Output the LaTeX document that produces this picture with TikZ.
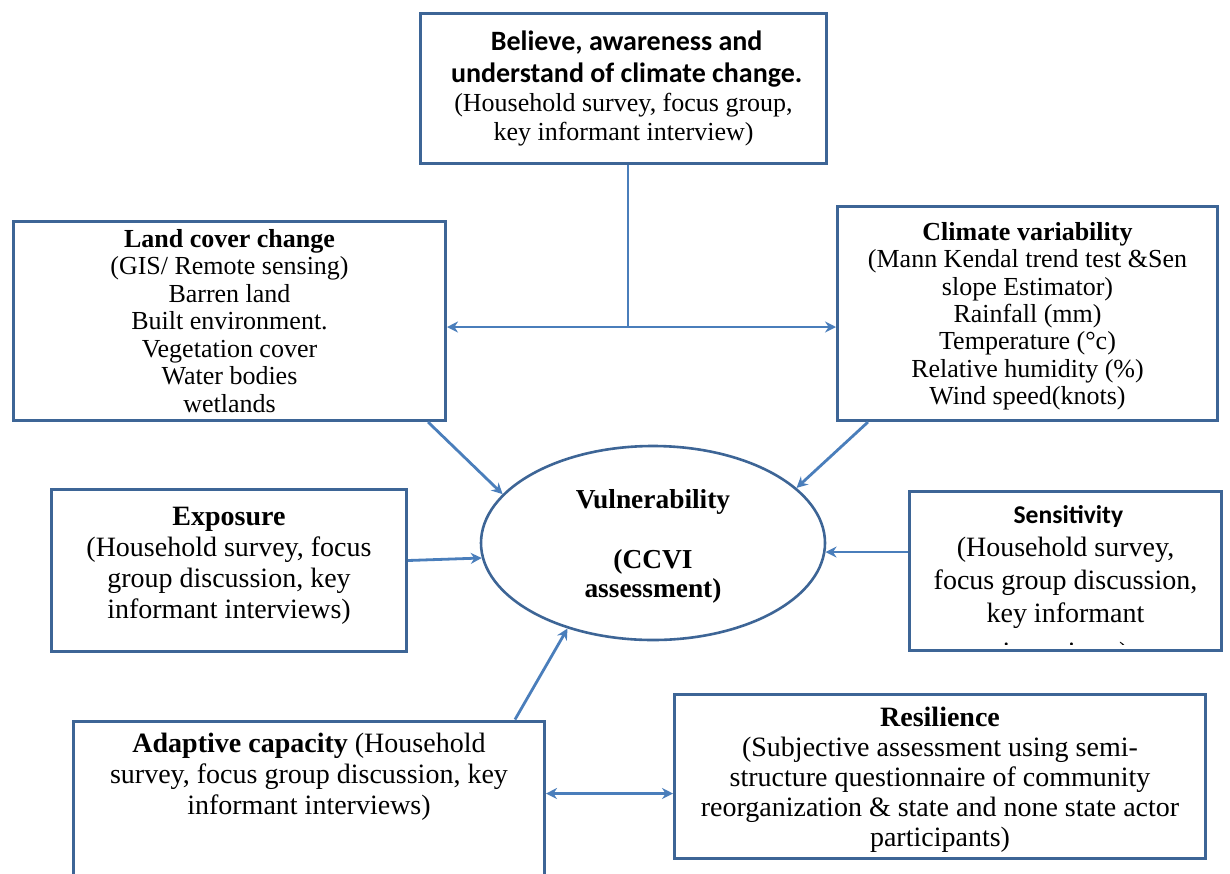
\documentclass[tikz,border=0pt]{standalone}
\usepackage{fontspec}
\setmainfont{Liberation Serif}
\newfontfamily\calibri{Carlito}
\usetikzlibrary{arrows.meta,calc,shapes.geometric}
\definecolor{edge}{HTML}{3D6596}
\definecolor{link}{HTML}{4A7EBB}
\newcommand\setfs[2]{\fontsize{#1}{#2}\selectfont}
\tikzset{
  box/.style={draw=edge,line width=1.5pt,fill=white,inner sep=0pt,align=center},
  plain/.style={align=center,inner sep=0pt},
  oval/.style={ellipse,draw=edge,line width=1.3pt,fill=white,inner sep=0pt,align=center},
  ar/.style={-{Stealth[length=5.5pt,width=5.5pt]},draw=link,line width=1.4pt},
  arb/.style={{Stealth[length=5.5pt,width=5.5pt]}-{Stealth[length=5.5pt,width=5.5pt]},draw=link,line width=1.4pt},
  ln/.style={draw=link,line width=1.4pt},
}
\begin{document}
\begin{tikzpicture}[x=0.5pt,y=-0.5pt]
  \path[fill=white,use as bounding box] (0,0) rectangle (1230,873);

  \node[box,minimum width=203pt,minimum height=75pt,font=\setfs{13}{14.5}] (belief) at (623.5,88.5)
    {{\calibri\bfseries\setfs{14}{16} Believe, awareness and}\\[1.5pt]
     {\calibri\bfseries\setfs{14}{16} understand of climate change.}\\
     (Household survey, focus group,\\
     key informant interview)};
  \node[box,minimum width=216pt,minimum height=99.5pt,font=\setfs{13}{13.75}] (land) at (229.5,321)
    {\textbf{Land cover change}\\(GIS/ Remote sensing)\\Barren land\\Built environment.\\Vegetation cover\\Water bodies\\wetlands};
  \node[box,minimum width=190pt,minimum height=107pt,text depth=-1pt,font=\setfs{13}{13.7}] (climate) at (1027.5,313.5)
    {\textbf{Climate variability}\\(Mann Kendal trend test \&Sen\\slope Estimator)\\Rainfall (mm)\\Temperature (°c)\\Relative humidity (\%)\\Wind speed(knots)};
  \node[oval,minimum width=172pt,minimum height=97pt,text depth=-3pt,font=\bfseries\setfs{13.7}{14.5}] (vul) at (653,543)
    {Vulnerability\\[15.5pt](CCVI\\assessment)};
  \node[box,minimum width=177.5pt,minimum height=81pt,text depth=7.5pt,font=\setfs{14}{15.5}] (exposure) at (229,570.5)
    {\textbf{Exposure}\\(Household survey, focus\\group discussion, key\\informant interviews)};
  % the last line is cut off by the box, as in the source
  \node[box,minimum width=156pt,minimum height=79.5pt,
    path picture={
      \clip ([shift={(3pt,-3pt)}]path picture bounding box.north west) rectangle ([shift={(-3pt,3pt)}]path picture bounding box.south east);
      \node[plain,anchor=north,font=\setfs{14}{16.5}] (senstext) at ([yshift=-6pt]path picture bounding box.north)
        {{\calibri\bfseries\setfs{12.8}{15} Sensitivity}\\(Household survey,\\focus group discussion,\\key informant\\[3pt]interviews)};
    }] (sens) at (1065.5,571) {};
  \node[box,anchor=north,minimum width=235.5pt,inner ysep=6pt,text depth=60pt,font=\setfs{14}{15.5}] (adaptive) at (309,719.5)
    {\textbf{Adaptive capacity} (Household\\survey, focus group discussion, key\\informant interviews)};
  \node[box,minimum width=265.5pt,minimum height=82pt,text depth=-6pt,font=\setfs{14}{15}] (res) at (940,776.5)
    {\textbf{Resilience}\\(Subjective assessment using semi-\\structure questionnaire of community\\reorganization \& state and none state actor\\participants)};

  \coordinate (fork) at (628,327);
  \draw[ln] (belief.south -| fork) -- (fork);
  \draw[ar] (fork) -- (fork -| land.east);
  \draw[ar] (fork) -- (fork -| climate.west);
  \draw[ar] ($(land.south east)+(-19,0)$) -- (vul.162);
  \draw[ar] ($(climate.south west)+(32,0)$) -- (vul.21);
  \draw[ar] ($(exposure.east)+(0,-10)$) -- (vul.185);
  \draw[ar] (sens.west |- vul.357) -- (vul.357);
  \draw[ar] ($(adaptive.north east)+(-31,0)$) -- (vul.225);
  \draw[arb] ($(adaptive.north east)+(0,74)$) coordinate (ac) -- (ac -| res.west);
\end{tikzpicture}
\end{document}
